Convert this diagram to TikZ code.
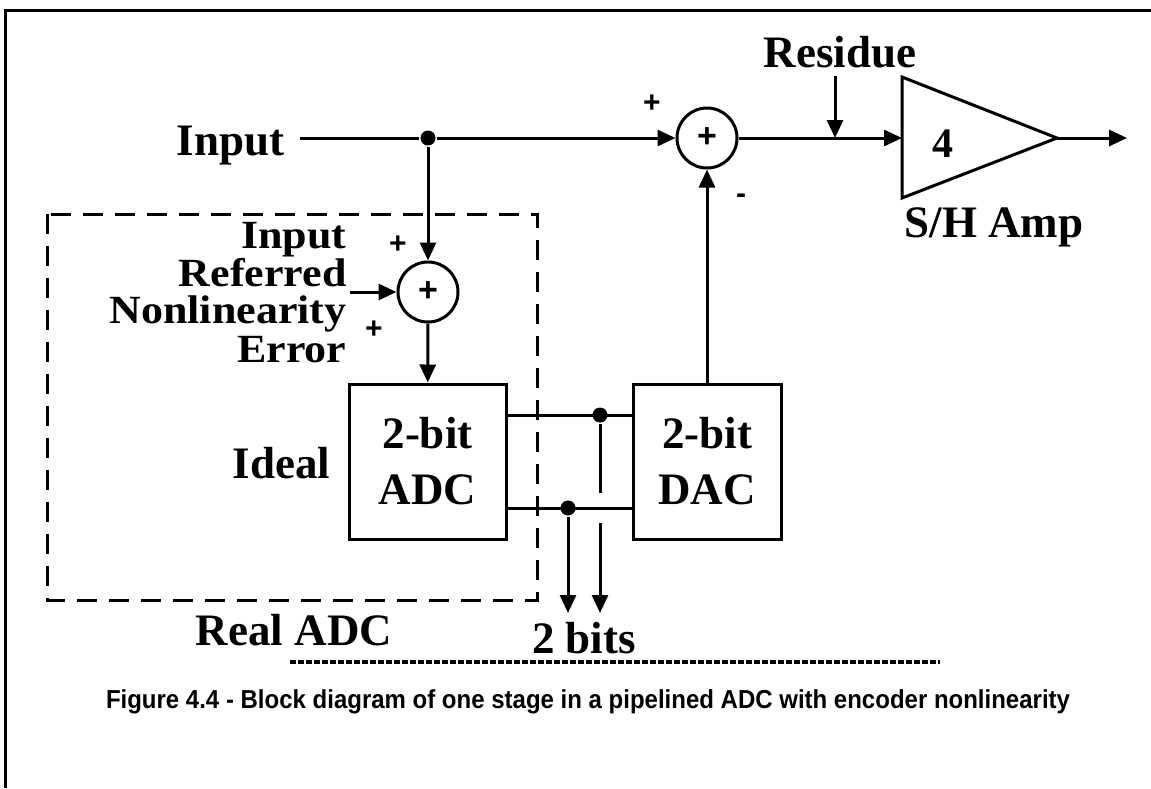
\documentclass[tikz,border=0pt]{standalone}
\usepackage{fontspec}
\setmainfont{Liberation Serif}
\setsansfont{Liberation Sans}
\usetikzlibrary{arrows.meta}
\begin{document}
\begin{tikzpicture}[x=0.5pt,y=-0.5pt, line width=1.5pt,
  lbl/.style={font=\fontsize{22.5}{22}\selectfont\bfseries, inner sep=0pt},
  errlbl/.style={font=\fontsize{20}{20}\selectfont\bfseries, inner sep=0pt, anchor=base east},
  sgn/.style={font=\sffamily\bfseries\fontsize{15}{15}\selectfont, inner sep=0pt},
  sumnode/.style={circle, draw, minimum size=30pt, inner sep=0pt, font=\sffamily\bfseries\fontsize{17}{17}\selectfont},
  blk/.style={draw, inner sep=0pt, align=center, font=\fontsize{22.5}{28}\selectfont\bfseries},
  arr/.style={-{Triangle[length=9pt,width=8pt]}},
  jdot/.style={circle, fill, inner sep=0pt, minimum size=7.5pt},
  realbox/.style={dash pattern=on 10pt off 6pt},
  capline/.style={line width=1.6pt, dash pattern=on 3pt off 1pt}
]
\useasboundingbox (0,0) rectangle (1151,788);
% frame
\draw (5,788) -- (5,10) -- (1151,10);
% labels
\node[lbl, anchor=base west] (inlbl) at (175,155) {Input};
\coordinate (inS) at (300,138);
\node[jdot] (j1) at (428,138) {};
\node[sumnode] (s2) at (707,138) {+};
\node[sumnode] (s1) at (428,292) {+};
\node[blk, minimum width=78.5pt, minimum height=77.5pt] (adc) at (427.5,461.5) {2-bit\\ADC};
\node[blk, minimum width=74pt, minimum height=77.5pt] (dac) at (707,461.5) {2-bit\\DAC};
% amp
\coordinate (ampL) at (902,138);
\coordinate (ampT) at (1057,138);
\draw (902,77) -- (902,198) -- (ampT) -- cycle;
\node[lbl, font=\fontsize{21}{21}\selectfont\bfseries] (gain) at (943,144) {4};
\coordinate (outE) at (1127,138);
\node[lbl, anchor=base] (shlbl) at (994,237) {S/H Amp};
\node[lbl, anchor=base] (reslbl) at (840,67) {Residue};
\coordinate (resA) at (835,76);
\coordinate (resB) at (835,138);
% error labels
\node[errlbl] (e1) at (348,248) {\scalebox{1.1}[1]{Input}};
\node[errlbl] (e2) at (348,286) {\scalebox{1.1}[1]{Referred}};
\node[errlbl] (e3) at (348,323) {\scalebox{1.1}[1]{Nonlinearity}};
\node[errlbl] (e4) at (348,362) {\scalebox{1.1}[1]{Error}};
\coordinate (errS) at (350,292);
\node[lbl, anchor=base east] (ideal) at (332,478) {Ideal};
% signs
\node[sgn] (p1) at (652,104) {+};
\node[sgn] (m1) at (741,199) {-};
\node[sgn] (p2) at (398,245) {+};
\node[sgn] (p3) at (374,330) {+};
% connectors
\draw (inS) -- (j1);
\draw[arr] (j1) -- (s2);
\draw[arr] (j1) -- (s1);
\draw[arr] (errS) -- (s1);
\draw[arr] (s1) -- (adc);
\draw[arr] (s2) -- (ampL);
\draw[arr] (resA) -- (resB);
\draw[arr] (ampT) -- (outE);
\draw[arr] (dac.north) -- (s2);
% buses
\coordinate (a1) at (adc.east |- 0,415);
\coordinate (a2) at (adc.east |- 0,508);
\coordinate (b1) at (dac.west |- 0,415);
\coordinate (b2) at (dac.west |- 0,508);
\node[jdot] (d1) at (600,415) {};
\node[jdot] (d2) at (568,508) {};
\draw (a1) -- (b1);
\draw (a2) -- (b2);
\coordinate (g1) at (600,493);
\coordinate (g2) at (600,523);
\coordinate (o1) at (568,613);
\coordinate (o2) at (600,613);
\draw (d1) -- (g1);
\draw[arr] (g2) -- (o2);
\draw[arr] (d2) -- (o1);
\node[lbl, anchor=base] (bitslbl) at (584,653) {2 bits};
% real ADC box
\draw[realbox] (47,214) rectangle (537,600);
\node[lbl, anchor=base] (reallbl) at (294,645) {Real ADC};
% caption
\draw[capline] (290,662) -- (940,662);
\node[inner sep=0pt, anchor=base, font=\sffamily\bfseries\fontsize{13}{13}\selectfont] (cap) at (588,708) {\resizebox{482pt}{\height}{Figure 4.4 - Block diagram of one stage in a pipelined ADC with encoder nonlinearity}};
\end{tikzpicture}
\end{document}
